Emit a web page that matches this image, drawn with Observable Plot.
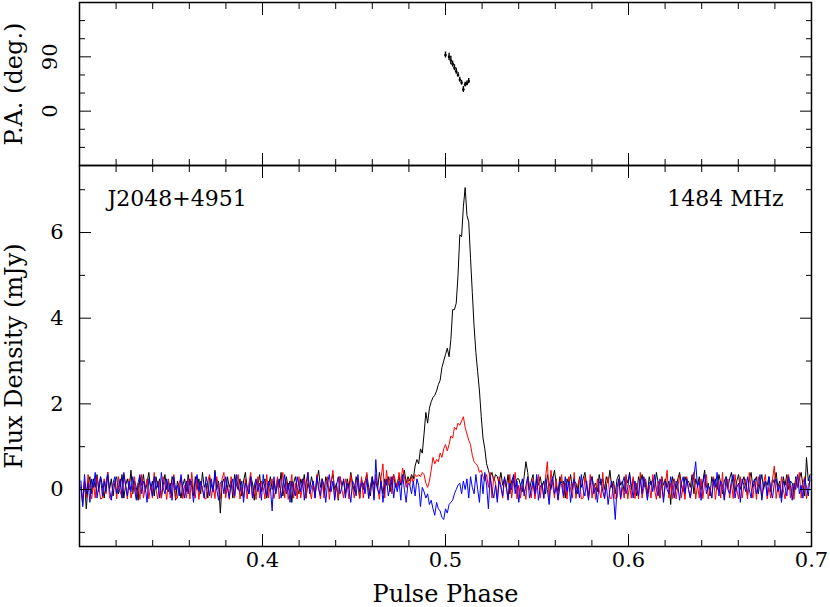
<!DOCTYPE html>
<html><head><meta charset="utf-8">
<script src="https://cdn.jsdelivr.net/npm/d3@7"></script>
<script src="https://cdn.jsdelivr.net/npm/@observablehq/plot@0.6"></script>
<style>
body{margin:0;background:#fff;}
#chart{position:relative;width:830px;height:607px;}
#chart svg{position:absolute;left:0;}
</style></head><body><div id="chart"></div>
<script>
// ---- data ----
const pulsarName = "J2048+4951";
const frequencyLabel = "1484 MHz";
const xTitle = "Pulse Phase";
const yTitleFlux = "Flux Density (mJy)";
const yTitlePA = "P.A. (deg.)";

const binsPerTurn = 1024;   // phase bins per rotation
const firstBin = 308;       // first plotted bin (phase ~0.3)

// total intensity (black), mJy, bins 308..716
const stokesI = [
0.05,-0.35,0.2,-0.45,0.1,0.3,-0.1,0.25,0.05,0.35,
-0.05,0.3,0.1,-0.2,0.15,0.4,0.0,0.25,-0.15,0.2,
0.3,-0.1,0.05,0.35,-0.2,0.1,0.25,0.0,0.45,-0.1,
0.2,0.05,-0.25,0.3,0.1,0.35,-0.05,0.15,0.4,0.0,
0.2,-0.15,0.3,0.05,0.25,-0.2,0.1,0.35,0.0,0.2,
-0.1,0.3,0.15,-0.25,0.2,0.05,-0.2,0.1,0.25,-0.05,
0.35,0.1,0.2,-0.15,0.3,0.0,0.25,-0.1,0.4,0.05,
0.15,-0.2,0.3,0.1,-0.05,0.45,0.0,0.2,-0.55,0.15,
0.25,-0.1,0.3,0.05,0.2,-0.2,0.35,0.1,0.0,0.25,
-0.15,0.2,0.4,0.05,-0.1,0.3,0.15,-0.25,0.2,0.1,
0.35,-0.05,0.15,0.25,-0.2,0.1,0.3,0.0,0.2,-0.1,
0.25,0.05,0.4,-0.15,0.1,0.3,0.0,0.2,-0.3,0.15,
0.3,0.05,-0.1,0.25,0.1,0.35,-0.2,0.15,0.0,0.3,
0.1,-0.15,0.2,0.45,0.05,0.25,-0.1,0.3,0.15,-0.05,
0.2,0.35,0.0,0.15,-0.25,0.3,0.1,0.2,-0.1,0.25,
0.05,0.4,0.15,-0.05,0.3,0.1,-0.2,0.25,0.0,0.2,
0.35,0.05,-0.15,0.3,0.1,0.2,0.0,0.4,0.15,-0.1,
0.25,0.1,0.3,-0.05,0.2,0.35,0.05,0.15,0.3,0.1,
0.25,0.45,0.15,0.3,
0.2,0.35,0.25,0.55,0.7,0.6,0.95,0.85,1.3,1.8,
1.55,1.9,2.05,2.15,2.2,2.3,2.45,2.55,2.85,3.0,
3.15,3.3,3.1,3.5,4.2,4.2,4.35,5.0,5.95,5.9,
6.6,7.05,6.4,6.25,5.4,4.6,3.8,3.2,2.75,2.3,
1.7,1.2,0.95,0.6,0.45,0.3,0.4,0.2,0.35,
0.3,0.15,0.4,0.1,0.25,0.05,0.35,-0.1,0.2,0.3,
0.05,0.25,0.25,0.1,-0.05,0.3,0.65,0.4,0.0,0.2,
0.35,-0.15,0.25,0.1,0.3,0.05,0.2,-0.1,0.35,0.15,
0.0,0.25,0.45,0.1,-0.05,0.3,0.15,0.2,-0.2,0.25,
0.1,0.35,0.0,0.2,0.15,-0.1,0.3,0.05,0.25,0.4,
0.1,-0.15,0.2,0.3,0.05,0.15,-0.05,0.35,0.1,0.25,
0.0,0.3,0.15,0.45,0.05,0.2,-0.1,0.25,0.35,0.1,
0.2,-0.05,0.3,0.15,0.4,0.0,0.25,0.1,-0.15,0.3,
0.15,0.35,0.05,0.2,-0.1,0.3,0.1,0.25,0.0,0.4,
0.15,-0.2,0.3,0.1,0.25,0.05,0.2,-0.35,0.3,0.15,
0.0,0.25,0.4,0.1,-0.05,0.3,0.15,0.2,0.05,0.35,
-0.1,0.25,0.1,0.3,0.0,0.2,0.45,0.05,0.15,-0.15,
0.3,0.1,0.25,0.0,0.35,0.15,-0.1,0.2,0.3,0.05,
0.25,0.4,0.1,-0.05,0.2,0.35,0.0,0.15,0.3,0.1,
-0.15,0.25,0.4,0.05,0.2,0.3,-0.1,0.15,0.35,0.0,
0.2,0.1,0.3,-0.05,0.25,0.15,0.4,0.05,0.2,-0.2,
0.3,0.1,0.35,0.0,0.2,0.15,-0.1,0.3,0.05,0.25,
0.4,0.1,-0.15,0.75,0.2,0.35
];

// linear polarization (red), mJy
const linearL = [
0.1,-0.25,0.2,-0.2,0.35,0.0,-0.22,0.15,-0.2,0.3,
0.05,-0.22,-0.2,0.25,-0.1,0.4,-0.2,-0.23,0.1,0.2,
-0.22,0.3,-0.05,-0.2,0.35,0.1,-0.22,0.25,-0.2,0.0,
0.3,-0.21,0.15,-0.23,0.35,-0.2,0.05,0.25,-0.22,0.1,
-0.2,0.4,0.0,-0.22,0.2,-0.2,0.3,0.1,-0.23,0.25,
-0.2,0.05,0.35,-0.22,-0.2,0.15,0.3,-0.21,0.1,-0.2,
0.25,-0.22,0.4,0.0,-0.2,0.3,-0.23,0.15,0.05,-0.2,
-0.22,0.2,0.35,-0.2,0.1,-0.21,0.3,0.05,-0.22,0.25,
0.4,-0.2,0.1,-0.23,0.3,0.0,-0.2,0.2,0.35,-0.22,
0.05,-0.2,0.25,-0.22,0.15,0.4,-0.2,0.1,-0.23,0.3,
-0.2,0.2,0.05,-0.22,0.35,-0.2,0.15,0.25,-0.21,0.0,
0.3,-0.22,0.1,0.4,-0.2,0.2,-0.23,0.05,0.35,-0.2,
0.15,-0.22,0.3,-0.2,0.1,0.25,-0.21,0.4,0.0,-0.22,
0.2,-0.2,0.35,0.1,-0.22,0.25,-0.2,0.05,0.3,-0.23,
0.15,0.45,-0.2,0.1,-0.22,0.3,0.0,-0.2,0.25,0.1,
-0.22,0.35,0.05,-0.2,0.2,0.2,-0.21,0.3,-0.2,0.15,
0.4,-0.22,0.1,0.25,-0.2,0.35,0.05,-0.23,0.3,0.6,
-0.2,0.45,0.1,0.3,-0.1,0.35,0.2,0.05,0.4,0.15,
0.5,0.3,0.05,0.25,
0.1,0.3,0.15,0.35,0.3,0.35,0.3,0.4,0.35,0.15,
0.05,0.2,0.45,0.75,0.6,0.7,0.65,0.85,0.75,0.95,
1.05,0.9,1.05,1.25,1.2,1.45,1.4,1.55,1.5,1.6,
1.7,1.45,1.3,1.15,1.05,0.8,0.65,0.6,0.55,0.4,
0.45,0.3,0.2,0.35,0.05,0.4,-0.2,0.3,0.15,
-0.22,0.3,0.1,-0.2,0.25,0.05,-0.21,0.35,-0.2,0.15,
0.4,-0.22,0.1,-0.2,0.1,0.0,-0.23,0.3,0.1,-0.2,
0.25,-0.22,0.05,0.35,-0.2,0.15,-0.21,0.3,0.65,-0.22,
0.45,0.1,-0.2,0.25,-0.23,0.05,0.35,-0.2,0.15,-0.22,
0.3,0.0,-0.2,0.4,-0.21,0.1,0.25,-0.22,-0.2,0.3,
0.05,-0.22,0.35,-0.2,0.15,-0.23,0.25,0.0,-0.2,0.4,
-0.22,0.1,0.3,-0.2,-0.21,0.15,-0.22,-0.2,0.25,-0.23,
0.05,-0.2,0.35,-0.22,0.1,-0.2,0.3,-0.21,0.15,-0.22,
0.4,-0.2,0.05,0.25,-0.22,0.1,-0.2,0.35,0.0,-0.23,
0.2,-0.2,0.3,-0.22,0.1,0.45,-0.2,0.15,-0.21,0.25,
-0.22,0.05,0.35,-0.2,0.1,-0.23,0.3,0.0,-0.2,0.2,
0.4,-0.22,0.1,-0.2,0.25,-0.21,0.15,0.35,-0.22,0.05,
-0.2,0.3,-0.23,0.1,0.2,-0.2,0.4,-0.22,0.05,0.25,
-0.2,0.15,-0.21,0.35,0.0,-0.22,0.3,-0.2,0.1,0.25,
-0.22,0.4,0.05,-0.2,0.2,-0.23,0.3,0.1,-0.2,0.15,
0.35,-0.22,0.05,-0.2,0.25,0.55,-0.21,0.1,-0.2,0.3,
0.0,-0.22,0.2,0.35,-0.2,0.1,-0.23,0.25,0.05,0.4,
-0.2,0.15,0.3,-0.22,0.1,0.2
];

// circular polarization (blue), mJy
const circularV = [
0.2,-0.4,0.35,-0.1,0.15,-0.3,0.25,0.05,0.4,-0.2,
0.1,0.3,-0.15,0.2,-0.05,0.35,0.0,-0.25,0.15,0.3,
-0.1,0.05,0.25,-0.2,0.4,0.1,-0.15,0.2,-0.05,0.3,
0.0,-0.25,0.15,0.35,-0.1,0.2,0.05,-0.3,0.25,0.1,
-0.15,0.3,0.0,0.2,-0.2,0.4,0.05,-0.1,0.25,-0.05,
0.15,-0.25,0.3,0.0,0.1,-0.15,0.35,0.05,-0.2,0.2,
-0.1,0.25,0.05,-0.3,0.15,0.35,-0.05,0.2,0.0,-0.2,
0.3,0.1,-0.15,0.25,-0.05,0.4,0.0,-0.25,0.15,0.2,
-0.1,0.3,0.05,-0.2,0.1,0.25,-0.15,0.35,0.0,-0.05,
0.2,-0.3,0.15,0.05,-0.1,0.3,-0.2,0.1,0.25,-0.05,
0.15,-0.25,0.35,0.0,-0.15,0.2,0.05,-0.5,0.3,-0.1,
0.1,0.25,-0.2,0.05,0.35,-0.1,0.15,-0.3,0.2,0.0,
-0.15,0.3,0.1,-0.05,0.25,-0.25,0.15,0.4,-0.1,0.05,
0.2,-0.2,0.3,0.0,-0.15,0.25,0.1,-0.3,0.15,0.35,
-0.05,0.2,-0.25,0.1,0.3,-0.1,0.05,0.25,-0.2,0.15,
0.0,-0.3,0.2,0.1,-0.15,0.35,-0.05,0.15,0.15,-0.1,
0.25,-0.2,0.05,0.3,-0.25,0.7,0.0,-0.1,0.2,-0.3,
0.1,0.25,-0.15,0.05,0.3,-0.2,0.15,-0.05,0.2,-0.25,
0.35,0.0,-0.3,0.15,
0.1,-0.1,0.2,-0.15,0.25,0.1,-0.4,0.05,-0.05,-0.2,
-0.1,-0.35,-0.25,-0.45,-0.6,-0.3,-0.45,-0.5,-0.65,-0.7,
-0.45,-0.55,-0.35,-0.3,-0.25,-0.1,0.0,0.1,0.15,-0.1,
0.2,0.0,0.25,-0.2,0.3,0.05,-0.1,0.35,0.0,-0.3,
0.35,-0.1,0.4,0.1,-0.45,0.3,0.0,-0.2,0.1,
-0.3,0.2,0.05,-0.15,0.3,0.1,-0.25,0.15,0.0,0.35,
-0.1,0.2,-0.3,0.05,0.25,-0.15,0.1,0.3,-0.2,0.0,
0.2,-0.1,0.35,-0.25,0.05,0.15,-0.2,0.25,0.0,-0.35,
0.15,0.3,-0.1,0.05,-0.25,0.2,0.1,-0.15,0.3,-0.05,
0.2,-0.3,0.1,0.25,-0.1,0.05,-0.2,0.35,0.0,-0.15,
0.2,-0.25,0.1,0.3,-0.1,0.05,-0.3,0.15,0.25,-0.05,
-0.2,0.1,-0.35,0.0,0.2,-0.15,-0.7,0.05,0.25,-0.2,
0.15,0.3,-0.1,0.05,0.35,0.1,-0.2,0.2,0.0,-0.15,
0.25,-0.1,0.3,0.05,-0.25,0.15,0.2,-0.05,0.35,0.0,
-0.15,0.25,0.1,-0.3,0.2,0.0,-0.1,0.3,0.05,-0.2,
0.2,0.1,-0.25,0.15,0.3,-0.1,0.25,0.0,-0.2,0.1,
0.3,0.65,0.05,0.2,-0.25,0.15,0.35,-0.1,0.1,0.0,
-0.2,0.25,0.05,0.4,-0.15,0.2,0.1,-0.25,0.3,0.0,
-0.1,0.2,0.35,-0.2,0.05,0.15,-0.3,0.25,0.1,-0.05,
0.3,0.0,-0.2,0.15,0.25,-0.1,0.05,0.35,-0.25,0.1,
0.2,-0.15,0.3,0.0,-0.2,0.15,0.25,-0.05,0.1,-0.3,
0.2,0.05,-0.15,0.3,0.1,-0.25,0.15,0.0,0.35,-0.1,
0.1,-0.2,0.25,0.05,-0.15,0.3
];

// position angle points
const paBins = [512, 514, 515, 516, 517, 518, 519, 520, 521, 522, 523, 524, 525];
const paDeg  = [93, 90, 84, 78, 72, 66, 60, 52, 47, 36, 44, 46, 50];
const paErr  = [5, 6, 7, 5, 5, 5, 4, 4, 4, 5, 4, 4, 4];

// ticks
const xMajorTicks = [0.3, 0.4, 0.5, 0.6, 0.7];
const xMinorTicks = [0.32,0.34,0.36,0.38,0.42,0.44,0.46,0.48,0.52,0.54,0.56,0.58,0.62,0.64,0.66,0.68];
const xTickLabels = [0.4, 0.5, 0.6, 0.7];
const fluxMajorTicks = [0, 2, 4, 6];
const fluxMinorTicks = [-1, 1, 3, 5, 7];
const paMajorTicks = [0, 90];
const paMinorTicks = [-60, -30, 30, 60, 120, 150];

// ---- build tables ----
const profile = stokesI.map((v, k) => ({
  phase: (firstBin + k) / binsPerTurn, I: v, L: linearL[k], V: circularV[k]
}));
const paRows = paBins.map((b, k) => ({
  phase: b / binsPerTurn, pa: paDeg[k], lo: paDeg[k] - paErr[k], hi: paDeg[k] + paErr[k]
}));

const font = "DejaVu Serif";
const common = {
  width: 830, marginLeft: 79, marginRight: 19,
  style: {fontFamily: font, fontSize: "21px", background: "transparent", color: "black", overflow: "visible"}
};
const xScale = {domain: [0.3, 0.7], axis: null, label: null};

function xTicks() {
  return [
    Plot.axisX(xMinorTicks, {anchor: "top", tickSize: -6, fill: "none", label: null}),
    Plot.axisX(xMajorTicks, {anchor: "top", tickSize: -12, fill: "none", label: null}),
    Plot.axisX(xMinorTicks, {anchor: "bottom", tickSize: -6, fill: "none", label: null}),
    Plot.axisX(xMajorTicks, {anchor: "bottom", tickSize: -12, fill: "none", label: null})
  ];
}
function yTicks(minor, major) {
  return [
    Plot.axisY(minor, {anchor: "left", tickSize: -6, fill: "none", label: null}),
    Plot.axisY(major, {anchor: "left", tickSize: -12, fill: "none", label: null}),
    Plot.axisY(minor, {anchor: "right", tickSize: -6, fill: "none", label: null}),
    Plot.axisY(major, {anchor: "right", tickSize: -12, fill: "none", label: null})
  ];
}

const topPlot = Plot.plot({
  ...common, height: 166, marginTop: 2, marginBottom: 1,
  x: xScale,
  y: {domain: [-90, 180], axis: null, label: null},
  marks: [
    Plot.ruleX(paRows, {x: "phase", y1: "lo", y2: "hi", stroke: "black", strokeWidth: 1.4}),
    Plot.dot(paRows, {x: "phase", y: "pa", r: 1.3, fill: "black"}),
    Plot.frame({strokeWidth: 1.5}),
    ...xTicks(),
    ...yTicks(paMinorTicks, paMajorTicks),
    Plot.axisY(paMajorTicks, {anchor: "left", tickSize: 0, tickPadding: 23, tickRotate: -90,
      textAnchor: "middle", lineAnchor: "bottom", label: null}),
    Plot.text([yTitlePA], {frameAnchor: "left", dx: -65, rotate: -90, textAnchor: "middle", lineAnchor: "middle", fontSize: 24})
  ]
});

const bottomPlot = Plot.plot({
  ...common, height: 443, marginTop: 1, marginBottom: 61,
  x: xScale,
  y: {domain: [-1.33, 7.565], axis: null, label: null},
  marks: [
    Plot.line(profile, {x: "phase", y: "I", stroke: "black", strokeWidth: 1}),
    Plot.line(profile, {x: "phase", y: "L", stroke: "#ff0000", strokeWidth: 1}),
    Plot.line(profile, {x: "phase", y: "V", stroke: "#0000ff", strokeWidth: 1}),
    Plot.frame({strokeWidth: 1.5}),
    ...xTicks(),
    ...yTicks(fluxMinorTicks, fluxMajorTicks),
    Plot.axisX(xTickLabels, {anchor: "bottom", tickSize: 0, tickPadding: 6, tickFormat: d3.format(".1f"), label: null}),
    Plot.axisY(fluxMajorTicks, {anchor: "left", tickSize: 0, tickPadding: 16, tickFormat: d3.format("d"), label: null}),
    Plot.text([pulsarName], {frameAnchor: "top-left", dx: 28, dy: 33, textAnchor: "start", lineAnchor: "middle", fontSize: 22}),
    Plot.text([frequencyLabel], {frameAnchor: "top-right", dx: -28, dy: 33, textAnchor: "end", lineAnchor: "middle", fontSize: 22}),
    Plot.text([yTitleFlux], {frameAnchor: "left", dx: -65, rotate: -90, textAnchor: "middle", lineAnchor: "middle", fontSize: 24}),
    Plot.text([xTitle], {frameAnchor: "bottom", dy: 48, textAnchor: "middle", lineAnchor: "middle", fontSize: 24})
  ]
});

const chart = document.getElementById("chart");
topPlot.style.top = "0px";
bottomPlot.style.top = "164px";
chart.appendChild(topPlot);
chart.appendChild(bottomPlot);
</script></body></html>
